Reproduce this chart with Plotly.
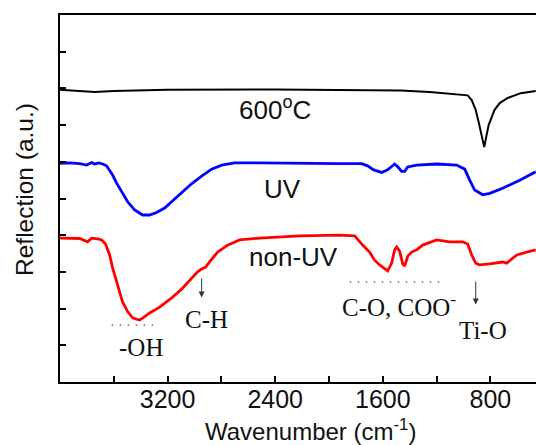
import plotly.graph_objects as go

# ---- data ----
wn_600 = [4000, 3854, 3743, 3602, 3200, 2404, 1601, 1467, 1252, 1066, 969, 939, 909, 887, 865, 846,
          831, 813, 770, 731, 671, 575, 463]
r_600 = [7.96, 7.92, 7.90, 7.93, 7.96, 7.97, 7.96, 7.94, 7.90, 7.85, 7.81, 7.68, 7.41, 7.08, 6.68, 6.40,
         6.68, 7.00, 7.41, 7.60, 7.74, 7.87, 7.93]

wn_uv = [4000, 3929, 3854, 3802, 3765, 3743, 3713, 3683, 3654, 3609, 3579, 3542, 3497, 3445, 3386, 3334,
         3282, 3222, 3170, 3096, 3022, 2947, 2873, 2798, 2702, 2516, 2218, 1921, 1757, 1713, 1668, 1609,
         1564, 1527, 1512, 1490, 1460, 1437, 1415, 1348, 1199, 1051, 991, 954, 917, 857, 805, 709, 582, 463]
r_uv = [5.96, 5.97, 5.95, 5.91, 5.98, 5.94, 5.97, 5.94, 5.89, 5.64, 5.42, 5.18, 4.91, 4.69, 4.55, 4.55,
        4.62, 4.74, 4.91, 5.15, 5.40, 5.61, 5.80, 5.91, 5.97, 5.97, 5.95, 5.95, 5.95, 5.89, 5.78, 5.71,
        5.78, 5.91, 5.94, 5.87, 5.74, 5.74, 5.86, 5.91, 5.94, 5.91, 5.80, 5.50, 5.23, 5.10, 5.14, 5.28, 5.50, 5.73]

wn_non = [4000, 3929, 3854, 3795, 3765, 3721, 3691, 3661, 3631, 3609, 3572, 3535, 3497, 3460, 3431, 3408,
          3378, 3334, 3259, 3170, 3096, 3022, 2977, 2947, 2917, 2888, 2828, 2754, 2665, 2516, 2218, 1921,
          1809, 1750, 1698, 1661, 1623, 1564, 1534, 1512, 1497, 1475, 1452, 1437, 1415, 1385, 1348, 1304,
          1199, 1103, 1006, 969, 939, 909, 880, 805, 709, 679, 604, 530, 463]
r_non = [3.92, 3.92, 3.91, 3.82, 3.92, 3.90, 3.87, 3.76, 3.46, 3.11, 2.64, 2.18, 1.92, 1.75, 1.71, 1.69,
         1.76, 1.88, 2.04, 2.29, 2.53, 2.81, 3.00, 3.08, 3.13, 3.27, 3.54, 3.73, 3.87, 3.92, 3.98, 4.00,
         3.98, 3.73, 3.54, 3.32, 3.19, 3.03, 3.24, 3.60, 3.68, 3.57, 3.22, 3.16, 3.43, 3.54, 3.60, 3.73,
         3.87, 3.82, 3.82, 3.76, 3.46, 3.24, 3.19, 3.22, 3.27, 3.24, 3.46, 3.54, 3.60]

x_ticks = [3200, 2400, 1600, 800]
x_minor = [3600, 2800, 2000, 1200, 400]
y_ticks = [1, 2, 3, 4, 5, 6, 7, 8, 9]

SANS = "Arial, Liberation Sans, sans-serif"
SERIF = "Times New Roman, Liberation Serif, serif"

fig = go.Figure()
fig.add_trace(go.Scatter(x=wn_600, y=r_600, mode="lines", line=dict(color="#000000", width=2)))
fig.add_trace(go.Scatter(x=wn_uv, y=r_uv, mode="lines", line=dict(color="#0000ff", width=2.8)))
fig.add_trace(go.Scatter(x=wn_non, y=r_non, mode="lines", line=dict(color="#ff0000", width=2.8)))

ann = []
def lab(text, x, y, font, size):
    ann.append(dict(text=text, x=x, y=y, xref="x", yref="y", showarrow=False,
                    font=dict(family=font, size=size, color="#111111"),
                    xanchor="center", yanchor="middle"))

lab("600<sup>o</sup>C", 2404, 7.44, SANS, 26)
lab("UV", 2345, 5.26, SANS, 26)
lab("non-UV", 2263, 3.41, SANS, 26)
lab("-OH", 3401, 0.93, SERIF, 25)
lab("C-H", 2910, 1.69, SERIF, 25)
lab("C-O, COO<sup>-</sup>", 1482, 2.10, SERIF, 25)
lab("Ti-O", 857, 1.39, SERIF, 25)

# arrows
for xa, y0, y1 in [(2947, 2.86, 2.30), (909, 2.78, 2.11)]:
    ann.append(dict(x=xa, y=y1, ax=xa, ay=y0, xref="x", yref="y", axref="x", ayref="y",
                    text="", showarrow=True, arrowhead=2, arrowsize=1.2, arrowwidth=1,
                    arrowcolor="#333333"))

# axis titles
ann.append(dict(text="Wavenumber (cm<sup>-1</sup>)", xref="paper", yref="paper",
                x=(310 - 60) / 476, y=(382 - 430) / 367, showarrow=False,
                xanchor="center", yanchor="middle",
                font=dict(family=SANS, size=24, color="#111111")))
ann.append(dict(text="Reflection (a.u.)", xref="paper", yref="paper",
                x=(24 - 60) / 476, y=(382 - 190) / 367, showarrow=False, textangle=-90,
                xanchor="center", yanchor="middle",
                font=dict(family=SANS, size=24.5, color="#111111")))

shapes = [
    dict(type="line", xref="x", yref="y", x0=3616, x1=3259, y0=1.55, y1=1.55,
         line=dict(color="#555555", width=1.3, dash="1.5px,6.5px")),
    dict(type="line", xref="x", yref="y", x0=1846, x1=1155, y0=2.72, y1=2.72,
         line=dict(color="#555555", width=1.3, dash="1.5px,6.5px")),
]

fig.update_layout(
    width=536, height=445,
    margin=dict(l=60, r=0, t=15, b=63),
    paper_bgcolor="white", plot_bgcolor="white",
    showlegend=False,
    annotations=ann, shapes=shapes,
    xaxis=dict(range=[4000, 461], tickvals=x_ticks, ticks="inside", ticklen=6, tickwidth=2,
               tickcolor="#000000", ticklabelstandoff=-6,
               minor=dict(tickvals=x_minor, ticks="inside", ticklen=6, tickwidth=2, tickcolor="#000000"),
               showline=True, linewidth=2, linecolor="#000000", mirror=True,
               showgrid=False, zeroline=False,
               tickfont=dict(family=SANS, size=25, color="#111111")),
    yaxis=dict(range=[0, 10], tickvals=y_ticks, ticks="inside", ticklen=6, tickwidth=2,
               tickcolor="#000000", showticklabels=False,
               showline=True, linewidth=2, linecolor="#000000", mirror=False,
               showgrid=False, zeroline=False),
)

fig.write_html("out.html", config={"displayModeBar": False},
               post_script="document.body.style.margin='0';document.body.style.padding='0';")
